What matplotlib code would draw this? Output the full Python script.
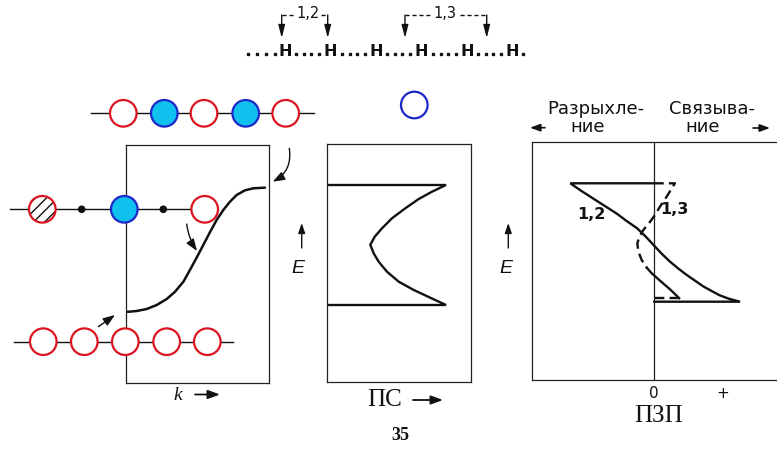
import numpy as np
import matplotlib
matplotlib.use("Agg")
import matplotlib.pyplot as plt
from matplotlib.patches import Circle

# ------------------------------------------------------------------ data
# Panel 1: band E(k); k in units of pi/a, E in units of the half band width
band_k = [0.0, 0.077, 0.149, 0.221, 0.293, 0.353, 0.413, 0.460, 0.508,
          0.556, 0.604, 0.652, 0.700, 0.748, 0.796, 0.856, 0.916, 1.0]
band_E = [-1.0, -0.984, -0.952, -0.888, -0.792, -0.675, -0.515, -0.328, -0.131,
          0.072, 0.277, 0.472, 0.632, 0.765, 0.872, 0.947, 0.979, 0.99]

# Panel 2: density of states (ПС)
dos_E = [1.0, 1.0, 0.888, 0.767, 0.612, 0.445, 0.278, 0.138, 0.005, -0.138,
         -0.278, -0.445, -0.612, -0.75, -0.867, -1.0, -1.0]
dos_n = [0.0, 1.0, 0.882, 0.771, 0.658, 0.546, 0.462, 0.401, 0.364, 0.392,
         0.434, 0.504, 0.603, 0.729, 0.855, 1.0, 0.0]

# Panel 3: crystal orbital overlap populations (ПЗП)
coop12_E = [1.0, 1.0, 0.87, 0.74, 0.61, 0.49, 0.36, 0.24, 0.10, -0.04, -0.18, -0.32,
            -0.44, -0.55, -0.65, -0.74, -0.82, -0.89, -0.95, -1.0, -1.0]
coop12_v = [0.0, -0.98, -0.85, -0.71, -0.57, -0.44, -0.32, -0.20, -0.10, -0.01, 0.08, 0.18,
            0.28, 0.38, 0.48, 0.57, 0.67, 0.76, 0.87, 1.0, 0.0]
coop13_E = [1.0, 1.0, 0.774, 0.605, 0.465, 0.334, 0.211, 0.098, -0.014, -0.155,
            -0.296, -0.426, -0.520, -0.644, -0.789, -0.94, -0.94]
coop13_v = [0.0, 0.241, 0.144, 0.066, 0.008, -0.058, -0.128, -0.174, -0.198, -0.186,
            -0.147, -0.088, -0.030, 0.066, 0.182, 0.290, 0.0]
coop13_split = 11  # dashed up to this point, then solid

coop_tick_vals = [0, 0.8]
coop_tick_labels = ["0", "+"]

curve_labels = ["1,2", "1,3"]
chain_atoms = ["H", "H", "H", "H", "H", "H"]

# ------------------------------------------------------------------ figure
W, H = 777, 459
fig = plt.figure(figsize=(W / 100, H / 100), dpi=100)
fig.patch.set_facecolor("white")

INK = "#111111"
BOX = "#222222"
RED = "#dc1420"
CYAN = "#10c0ee"
BLUE = "#1c28c8"


def panel(box, xa, ya):
    """box=(left, top, right, bottom) in px; xa/ya=(px0, v0, px1, v1) anchors."""
    l, t, r, b = box
    ax = fig.add_axes([l / W, 1 - b / H, (r - l) / W, (b - t) / H])
    sx = (xa[3] - xa[1]) / (xa[2] - xa[0])
    sy = (ya[3] - ya[1]) / (ya[2] - ya[0])
    ax.set_xlim(xa[1] + (l - xa[0]) * sx, xa[1] + (r - xa[0]) * sx)
    ax.set_ylim(ya[1] + (b - ya[0]) * sy, ya[1] + (t - ya[0]) * sy)
    for s in ax.spines.values():
        s.set_linewidth(0.9)
        s.set_color(BOX)
    ax.set_xticks([])
    ax.set_yticks([])
    ax.patch.set_alpha(0)
    return ax


# Panel 1 -- band
ax1 = panel((126, 145, 268.7, 383.3), (126, 0, 265, 1), (312, -1, 187, 1))
ax1.plot(band_k, band_E, color=INK, lw=1.8, solid_capstyle="round")

# Panel 2 -- DOS
ax2 = panel((327.3, 144, 470.7, 381.7), (327, 0, 446, 1), (305, -1, 185, 1))
ax2.plot(dos_n, dos_E, color=INK, lw=1.7, solid_joinstyle="miter")

# Panel 3 -- COOP
ax3 = panel((532.3, 141.7, 790, 380), (654.3, 0, 740, 1), (301.7, -1, 183.3, 1))
ax3.spines["right"].set_visible(False)
ax3.axvline(0, color=BOX, lw=0.9)
ax3.plot(coop12_v, coop12_E, color=INK, lw=1.7, solid_joinstyle="miter")
s = coop13_split
ax3.plot(coop13_v[:s + 1], coop13_E[:s + 1], color=INK, lw=1.7, ls=(0, (4, 2.2)))
ax3.plot(coop13_v[s:-1], coop13_E[s:-1], color=INK, lw=1.7)
ax3.plot(coop13_v[-2:], coop13_E[-2:], color=INK, lw=1.7, ls=(0, (4, 2.2)))
ax3.set_xticks(coop_tick_vals)
ax3.set_xticklabels(coop_tick_labels)
ax3.tick_params(axis="x", length=0, pad=4, labelsize=11, labelcolor=INK)
ax3.text(-0.74, 0.48, curve_labels[0], fontsize=11.5, fontweight="bold",
         ha="center", va="center", color=INK)
ax3.text(0.23, 0.56, curve_labels[1], fontsize=11.5, fontweight="bold",
         ha="center", va="center", color=INK)

# ------------------------------------------------------------------ overlay (pixel layout)
ov = fig.add_axes([0, 0, 1, 1])
ov.set_xlim(0, W)
ov.set_ylim(H, 0)
ov.axis("off")
ov.set_zorder(5)
ov.patch.set_alpha(0)


def arrow(p0, p1, rad=0.0, hl=0.55, hw=0.2, ms=13, lw=1.0):
    ov.annotate("", xy=p1, xytext=p0,
                arrowprops=dict(arrowstyle=f"-|>,head_length={hl},head_width={hw}",
                                color=INK, lw=lw, shrinkA=0, shrinkB=0,
                                mutation_scale=ms,
                                connectionstyle=f"arc3,rad={rad}"))


R = 13.3


def ring(x, y, edge=RED, face="white", r=R, z=3):
    ov.add_patch(Circle((x, y), r, facecolor=face, edgecolor=edge, lw=1.6, zorder=z))


# top row of orbitals
y_top = 113.3
ov.plot([90.7, 314], [y_top, y_top], color=INK, lw=1.0, zorder=1)
for i, x in enumerate([123.3, 164.3, 204, 245.7, 285.7]):
    if i % 2:
        ring(x, y_top, edge=BLUE, face=CYAN)
    else:
        ring(x, y_top)

# middle row
y_mid = 209.3
ov.plot([10, 191.7], [y_mid, y_mid], color=INK, lw=1.0, zorder=1)
ov.add_patch(Circle((42.3, y_mid), R, facecolor="white", edgecolor=INK, lw=0,
                    hatch="///", zorder=3))
ov.add_patch(Circle((42.3, y_mid), R, facecolor="none", edgecolor=RED, lw=1.6, zorder=4))
for x in (81.7, 163.3):
    ov.add_patch(Circle((x, y_mid), 3.8, facecolor=INK, edgecolor="none", zorder=3))
ring(124.3, y_mid, edge=BLUE, face=CYAN)
ring(204.7, y_mid)

# bottom row
y_bot = 341.7
ov.plot([14, 233.3], [y_bot, y_bot], color=INK, lw=1.0, zorder=1)
for x in [43.3, 84.3, 125.3, 166.7, 207.3]:
    ring(x, y_bot)

# lone blue circle above panel 2
ov.add_patch(Circle((414.3, 105), R, facecolor="none", edgecolor=BLUE, lw=1.6, zorder=3))

# pointer arrows
arrow((289.3, 148.3), (272.7, 181.7), rad=-0.35)
arrow((186.7, 224.0), (197.0, 251.0), rad=0.12)
arrow((98.3, 326.7), (115.0, 315.0))

# E labels with arrows
for xa_, xe in ((301.7, 298), (508.3, 506)):
    arrow((xa_, 248), (xa_, 223), hl=0.5, hw=0.17, ms=12)
    ov.text(xe, 268.5, "E", fontsize=14, fontstyle="italic", family="Liberation Sans",
            ha="center", va="center", color=INK)

# axis captions
ov.text(177.5, 395, "k", fontsize=14, fontstyle="italic", family="Liberation Serif",
        ha="center", va="center", color=INK)
arrow((195, 394.5), (220, 394.5), hl=0.6, hw=0.22, ms=12, lw=1.3)
ov.text(385, 400, "ПС", fontsize=18, family="Liberation Serif",
        ha="center", va="center", color=INK)
arrow((413, 400), (443, 400), hl=0.6, hw=0.22, ms=12, lw=1.3)
ov.text(659, 416, "ПЗП", fontsize=18, family="Liberation Serif",
        ha="center", va="center", color=INK)
ov.text(400, 436, "35", fontsize=13, family="Liberation Serif", fontweight="bold",
        ha="center", va="center", color=INK)

# COOP header
ov.text(595.5, 114, "Разрыхле-", fontsize=13, ha="center", va="baseline", color=INK)
ov.text(587.5, 132, "ние", fontsize=13, ha="center", va="baseline", color=INK)
ov.text(711.5, 114, "Связыва-", fontsize=13, ha="center", va="baseline", color=INK)
ov.text(702.5, 132, "ние", fontsize=13, ha="center", va="baseline", color=INK)
arrow((545, 127.7), (530, 127.7), hl=0.6, hw=0.22, ms=10, lw=1.2)
arrow((753, 128), (770, 128), hl=0.6, hw=0.22, ms=10, lw=1.2)

# H chain
h_x0, h_dx, h_y = 285, 45.5, 51
hx = [h_x0 + i * h_dx for i in range(len(chain_atoms))]
for x, a in zip(hx, chain_atoms):
    ov.text(x, h_y, a, fontsize=11.5, fontweight="bold", ha="center", va="center", color=INK)
dots = [h_x0 - h_dx * f for f in (0.82, 0.62, 0.42, 0.22)]
for x0, x1 in zip(hx[:-1], hx[1:]):
    dots += [x0 + (x1 - x0) * f for f in (0.25, 0.42, 0.58, 0.75)]
dots.append(hx[-1] + 10.5)
ov.plot(dots, [h_y + 2.5] * len(dots), ls="none", marker="s", ms=1.6, color=INK)

# brackets
yb, yt = 15, 38
for xl, xr, lab, xlab, gap in ((281.7, 327.7, curve_labels[0], 308, (294, 321)),
                               (405, 486.7, curve_labels[1], 445, (430, 460))):
    arrow((xl, yb), (xl, yt), hl=0.7, hw=0.18, ms=11)
    arrow((xr, yb), (xr, yt), hl=0.7, hw=0.18, ms=11)
    ov.plot([xl, gap[0]], [yb, yb], color=INK, lw=1.0, ls=(0, (3, 2)))
    ov.plot([gap[1], xr], [yb, yb], color=INK, lw=1.0, ls=(0, (3, 2)))
    ov.text(xlab, 14, lab, fontsize=10.5, ha="center", va="center", color=INK)

fig.savefig("out.png", dpi=100)
